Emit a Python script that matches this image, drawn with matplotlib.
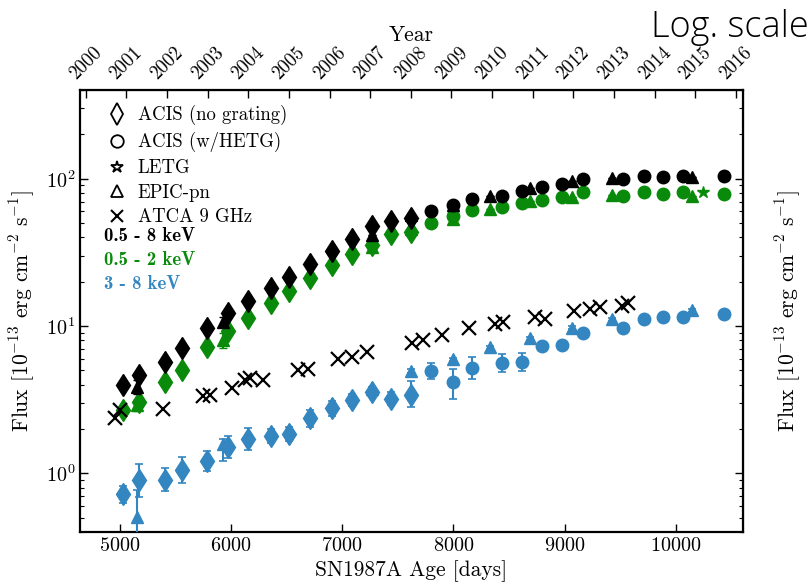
import numpy as np
import matplotlib
matplotlib.use('Agg')
import matplotlib.pyplot as plt
from matplotlib.lines import Line2D

# ---------------- data ----------------
# ACIS (no grating) - diamonds
acis_days = [5029, 5178, 5409, 5559, 5783, 5977, 6157, 6358, 6526, 6712, 6912, 7092, 7266, 7439, 7619]
acis_broad = [3.97, 4.64, 5.71, 7.05, 9.65, 12.2, 14.8, 18.0, 21.4, 26.4, 32.4, 38.9, 47.4, 51.3, 54.3]
acis_soft = [2.68, 3.05, 4.18, 5.02, 7.23, 9.29, 11.3, 14.3, 17.3, 21.1, 26.0, 30.9, 35.6, 42.1, 43.6]
acis_hard = [0.72, 0.906, 0.906, 1.048, 1.21, 1.51, 1.72, 1.79, 1.84, 2.36, 2.76, 3.14, 3.57, 3.22, 3.39]
acis_hard_lo = [0.09, 0.21, 0.15, 0.19, 0.17, 0.24, 0.27, 0.19, 0.19, 0.31, 0.29, 0.28, 0.27, 0.29, 0.58]
acis_hard_hi = [0.10, 0.26, 0.19, 0.24, 0.21, 0.28, 0.32, 0.21, 0.21, 0.35, 0.32, 0.31, 0.29, 0.32, 0.83]

# EPIC-pn - triangles
epic_days = [5160, 5933, 7266, 7619, 8000, 8329, 8688, 9063, 9422, 10141]
epic_broad = [3.87, 10.7, 41.6, 56.9, 66.6, 75.8, 86.5, 95.9, 101.1, 102.8]
epic_broad_err = [0.4, 0.8, 0, 0, 0, 0, 0, 0, 0, 0]
epic_soft = [2.90, 8.03, 34.6, 45.5, 53.2, 62.2, 70.1, 75.1, 77.8, 76.6]
epic_soft_err = [0.25, 0.9, 0, 0, 0, 0, 0, 0, 0, 0]
epic_hard = [0.505, 1.59, 3.71, 4.97, 5.93, 7.16, 8.25, 9.77, 11.1, 12.8]
epic_hard_lo = [0.22, 0.37, 0.10, 0.15, 0.15, 0.15, 0.15, 0.20, 0.20, 0.25]
epic_hard_hi = [0.27, 0.13, 0.10, 0.15, 0.15, 0.15, 0.15, 0.20, 0.20, 0.25]

# ACIS (w/HETG) - circles
hetg_days = [7796, 7999, 8164, 8434, 8614, 8793, 8973, 9162, 9521, 9712, 9886, 10066, 10431]
hetg_broad = [60.6, 66.0, 73.1, 76.9, 82.8, 87.8, 92.5, 99.5, 99.5, 103.7, 102.8, 104.8, 103.7]
hetg_soft = [50.0, 56.0, 61.5, 63.8, 68.4, 71.2, 75.1, 80.7, 76.9, 80.7, 79.1, 80.7, 78.7]
hetg_hard = [4.93, 4.18, 5.16, 5.62, 5.71, 7.28, 7.43, 8.92, 9.65, 11.1, 11.5, 11.5, 12.0]
hetg_hard_lo = [0.58, 0.98, 0.82, 0.74, 0.75, 0.45, 0.35, 0.35, 0.35, 0.35, 0.35, 0.35, 0.35]
hetg_hard_hi = [0.66, 0.94, 0.97, 0.85, 0.86, 0.50, 0.40, 0.40, 0.40, 0.40, 0.40, 0.40, 0.40]

# LETG - star
letg_days = [10245]
letg_soft = [80.7]

# ATCA 9 GHz - crosses
atca_days = [4960, 5004, 5388, 5753, 5813, 6008, 6128, 6172, 6287, 6606, 6696, 6966, 7086, 7226,
             7625, 7730, 7895, 8143, 8374, 8448, 8733, 8823, 9084, 9227, 9317, 9512, 9571]
atca_flux = [2.36, 2.68, 2.73, 3.34, 3.39, 3.77, 4.29, 4.41, 4.29, 5.02, 5.08, 5.94, 6.18, 6.69,
             7.62, 8.03, 8.69, 9.73, 10.3, 10.7, 11.6, 11.1, 12.7, 13.1, 13.4, 13.7, 14.4]

xticks_days = [5000, 6000, 7000, 8000, 9000, 10000]
years = list(range(2000, 2017))
year_labels = [str(y) for y in years]

C_BROAD = 'black'
C_SOFT = '#0a8a0a'
C_HARD = '#3386c0'

# ---------------- style ----------------
plt.rcParams['font.family'] = 'serif'
plt.rcParams['font.serif'] = ['cmr10']
plt.rcParams['mathtext.fontset'] = 'cm'
plt.rcParams['axes.formatter.use_mathtext'] = True
plt.rcParams['axes.unicode_minus'] = False

fig = plt.figure(figsize=(8.11, 5.83), dpi=100)
ax = fig.add_axes([80 / 811, 51 / 583, 663 / 811, 442 / 583])
ax.set_yscale('log')
ax.set_xlim(4645, 10602)
ax.set_ylim(0.4, 400)

ms_d, ms_o, ms_t = 11.5, 9, 9

# hard band (blue)
ax.errorbar(acis_days, acis_hard, yerr=[acis_hard_lo, acis_hard_hi], fmt='d', color=C_HARD,
            ms=ms_d, elinewidth=1.5, capsize=3, capthick=1.2, zorder=3)
ax.errorbar(epic_days, epic_hard, yerr=[epic_hard_lo, epic_hard_hi], fmt='^', color=C_HARD,
            ms=ms_t, elinewidth=1.5, capsize=3, capthick=1.2, zorder=3)
ax.errorbar(hetg_days, hetg_hard, yerr=[hetg_hard_lo, hetg_hard_hi], fmt='o', color=C_HARD,
            ms=ms_o, elinewidth=1.5, capsize=3, capthick=1.2, zorder=3)

# soft band (green)
ax.plot(acis_days, acis_soft, 'd', color=C_SOFT, ms=ms_d, zorder=3)
ax.errorbar(epic_days, epic_soft, yerr=epic_soft_err, fmt='^', color=C_SOFT, ms=ms_t,
            elinewidth=1.5, capsize=3, zorder=3)
ax.plot(hetg_days, hetg_soft, 'o', color=C_SOFT, ms=ms_o, zorder=3)
ax.plot(letg_days, letg_soft, '*', color=C_SOFT, ms=9, zorder=3)

# broad band (black)
ax.plot(acis_days, acis_broad, 'd', color=C_BROAD, ms=ms_d, zorder=4)
ax.plot(hetg_days, hetg_broad, 'o', color=C_BROAD, ms=ms_o, zorder=4)
ax.errorbar(epic_days, epic_broad, yerr=epic_broad_err, fmt='^', color=C_BROAD, ms=ms_t,
            elinewidth=1.5, capsize=3, zorder=4)

# radio
ax.plot(atca_days, atca_flux, 'x', color='black', ms=10, mew=1.6, zorder=4)

# axes styling
ax.set_xticks(xticks_days)
ax.tick_params(axis='both', which='both', direction='in', labelsize=14.5)
ax.tick_params(which='major', length=6, width=1)
ax.tick_params(which='minor', length=3, width=0.8)
ax.tick_params(axis='y', right=False)
for sp in ax.spines.values():
    sp.set_linewidth(1.6)
ax.set_xlabel('SN1987A Age [days]', fontsize=15.5, labelpad=4)
ylab = r'Flux [$10^{-13}$ erg cm$^{-2}$ s$^{-1}$]'
ax.set_ylabel(ylab, fontsize=15.5, labelpad=6)

# right axis (ticks, no labels)
secy = ax.secondary_yaxis('right')
secy.tick_params(axis='y', which='both', direction='in', labelright=False)
secy.tick_params(which='major', length=6, width=1)
secy.tick_params(which='minor', length=3, width=0.8)
secy.set_ylabel(ylab, fontsize=15.5, labelpad=22)

# top axis in years
T0 = 1987.145
def d2y(d):
    return T0 + np.asarray(d) / 365.25
def y2d(y):
    return (np.asarray(y) - T0) * 365.25
secx = ax.secondary_xaxis('top', functions=(d2y, y2d))
secx.set_xticks(years)
secx.set_xticklabels(year_labels, rotation=45, ha='center', fontsize=13.5)
secx.tick_params(axis='x', which='major', direction='in', length=6, width=1, pad=5)
secx.tick_params(axis='x', which='minor', length=0)
secx.set_xlabel('Year', fontsize=15.5, labelpad=2)

# legend
handles = [
    Line2D([], [], ls='none', marker='d', mfc='none', mec='black', mew=1.3, ms=11),
    Line2D([], [], ls='none', marker='o', mfc='none', mec='black', mew=1.3, ms=9),
    Line2D([], [], ls='none', marker='*', mfc='none', mec='black', mew=1.3, ms=9),
    Line2D([], [], ls='none', marker='^', mfc='none', mec='black', mew=1.3, ms=9),
    Line2D([], [], ls='none', marker='x', mfc='none', mec='black', mew=1.5, ms=9),
]
labels = ['ACIS (no grating)', 'ACIS (w/HETG)', 'LETG', 'EPIC-pn', 'ATCA 9 GHz']
ax.legend(handles, labels, loc='upper left', frameon=False, fontsize=13.5, numpoints=1,
          handlelength=1.0, handletextpad=0.6, labelspacing=0.36, borderaxespad=0.3,
          bbox_to_anchor=(0.022, 0.995))

band_texts = ['0.5 - 8 keV', '0.5 - 2 keV', '3 - 8 keV']
band_colors = [C_BROAD, C_SOFT, C_HARD]
band_y = [0.670, 0.615, 0.561]
for t, c, yy in zip(band_texts, band_colors, band_y):
    ax.text(0.036, yy, t, transform=ax.transAxes, color=c, fontsize=13.5,
            family='cmb10', ha='left', va='center')

fig.text(0.997, 0.985, 'Log. scale', ha='right', va='top', fontsize=26,
         family=['Open Sans', 'DejaVu Sans'], fontweight='light')

fig.savefig('out.png', dpi=100)
